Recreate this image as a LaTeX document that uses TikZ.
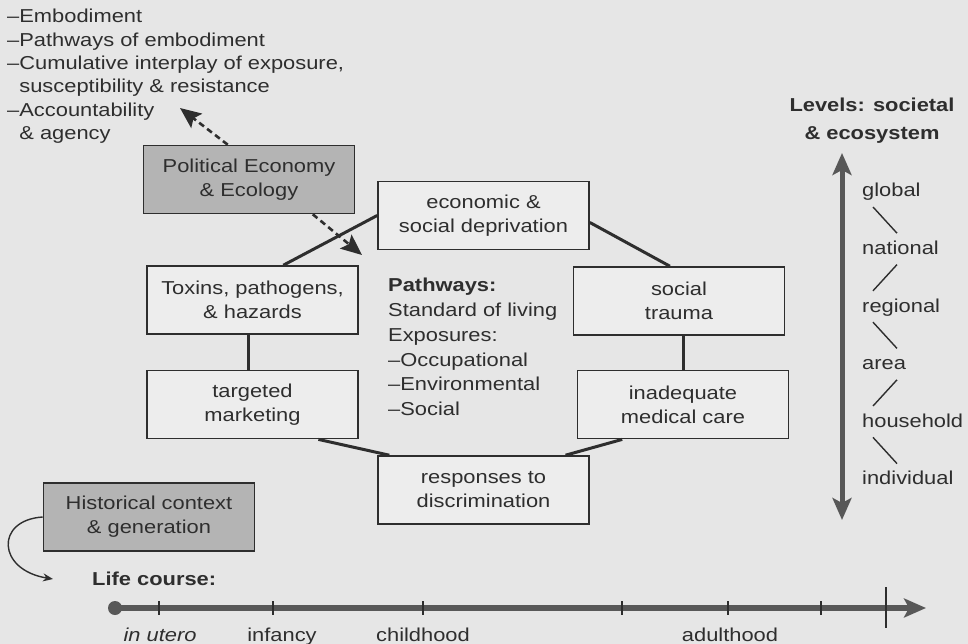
\documentclass[tikz,border=0pt]{standalone}
\usepackage{fontspec}
\setmainfont{Liberation Sans}[FakeStretch=1.17]
\usepackage{xcolor}
\usetikzlibrary{arrows.meta,calc,positioning}
\definecolor{page}{HTML}{E6E6E6}
\definecolor{ink}{HTML}{2E2E2E}
\definecolor{boxfill}{HTML}{EDEDED}
\definecolor{shade}{HTML}{B4B4B4}
\definecolor{rule}{HTML}{585858}
\tikzset{%
	box/.style        = {draw=ink, line width=1.6pt, fill=boxfill, rectangle, minimum width=211pt, minimum height=68pt, inner sep=0pt, align=center},
	shadebox/.style   = {box, fill=shade},
	link/.style       = {draw=ink, line width=3pt},
	dasharrow/.style  = {draw=ink, line width=2.6pt, dash pattern=on 6pt off 4pt, -{Stealth[length=21pt,width=18pt,inset=4pt]}},
	scalearrow/.style = {draw=rule, line width=5pt, {Stealth[length=22pt,width=19pt,inset=5pt]}-{Stealth[length=22pt,width=19pt,inset=5pt]}},
	level/.style      = {anchor=west, inner sep=0pt, text height=14pt, text depth=4pt},
	levelline/.style  = {draw=ink, line width=1.4pt},
	timeline/.style   = {draw=rule, line width=5.5pt, -{Stealth[length=22pt,width=19pt,inset=5pt]}},
	tickmark/.style   = {draw=ink, line width=1.5pt},
	curvearrow/.style = {draw=ink, line width=1.4pt, -{Stealth[length=10pt,width=8pt]}},
}
\begin{document}
\begin{tikzpicture}[x=1pt,y=-1pt,every node/.append style={text=ink,font=\fontsize{18.7}{24}\selectfont}]
	\fill[page] (0,0) rectangle (968,644);
	\useasboundingbox (0,0) rectangle (968,644);
	
	\node[anchor=north west, inner sep=0pt, align=left, font=\fontsize{18.7}{23.4}\selectfont] (aims) at (7,9) {--Embodiment\\--Pathways of embodiment\\--Cumulative interplay of exposure,\\\phantom{--}susceptibility \& resistance\\--Accountability\\\phantom{--}\& agency};
	
	\node[shadebox] (polecon) at (249,179.5) {Political Economy\\\& Ecology};
	\node[box] (depriv) at (483.5,215.5) {economic \&\\social deprivation};
	\node[box] (toxins) at (252.5,300) {Toxins, pathogens,\\\& hazards};
	\node[box, below=35pt of toxins] (marketing) {targeted\\marketing};
	\node[box] (trauma) at (679,301) {social\\trauma};
	\node[box, below=34pt of trauma, xshift=4pt] (medcare) {inadequate\\medical care};
	\node[box] (discrim) at (483.5,490) {responses to\\discrimination};
	\node[shadebox] (history) at (149,517) {Historical context\\\& generation};
	
	\node[anchor=north west, inner sep=0pt, align=left, font=\fontsize{18.7}{24.8}\selectfont] (paths) at (388,278) {\textbf{Pathways:}\\Standard of living\\Exposures:\\--Occupational\\--Environmental\\--Social};
	
	% ring of pathways
	\draw[link] ($(toxins.north west)!.645!(toxins.north east)$) -- (depriv.west);
	\draw[link] ($(depriv.north east)!.6!(depriv.south east)$) -- ($(trauma.north west)!.457!(trauma.north east)$);
	\draw[link] (medcare.north) -- (medcare.north |- trauma.south);
	\draw[link] ($(medcare.south west)!.214!(medcare.south east)$) -- ($(discrim.north west)!.886!(discrim.north east)$);
	\draw[link] ($(discrim.north west)!.057!(discrim.north east)$) -- ($(marketing.south west)!.81!(marketing.south east)$);
	\draw[link] ($(marketing.north west)!.48!(marketing.north east)$) coordinate (m) -- (m |- toxins.south);
	
	\coordinate (aimtip) at (180,108);
	\coordinate (pathtip) at (362,255);
	\draw[dasharrow] ($(polecon.north west)!.4!(polecon.north east)$) -- (aimtip);
	\draw[dasharrow] ($(polecon.south west)!.8!(polecon.south east)$) -- (pathtip);
	
	% levels
	\node[align=center, font=\bfseries\fontsize{18.7}{28}\selectfont] (levels) at (872,121) {Levels: societal\\\& ecosystem};
	\coordinate (scaletop) at (842,153);
	\coordinate (scalebot) at (842,520);
	\draw[scalearrow] (scalebot) -- (scaletop);
	\foreach \lvl [count=\i] in {global,national,regional,area,household,individual}
		\node[level] (lvl\i) at (862,{134.2+57.6*\i}) {\lvl};
	\foreach \i/\j/\p/\q in {1/2/11/35,2/3/35/11,3/4/11/35,4/5/35/11,5/6/11/35}
		\draw[levelline] ($(lvl\i.south west)+(\p,6)$) -- ($(lvl\j.north west)+(\q,-7)$);
	
	% life course
	\node[anchor=base west, inner sep=0pt, font=\bfseries\fontsize{18.7}{24}\selectfont] (lifecourse) at (92,585) {Life course:};
	\coordinate (lcstart) at (115,608);
	\coordinate (lcend) at (926,608);
	\coordinate (lctip) at (53,579);
	\draw[curvearrow] (history.west) .. controls (-5,520) and (-3,570) .. (lctip);
	\draw[timeline] (lcstart) -- (lcend);
	\fill[rule] (lcstart) circle (7);
	\foreach \t in {159,273,423,622,728,821} \draw[tickmark] (\t,601) -- (\t,615);
	\draw[tickmark, line width=2pt] (886,587) -- (886,628);
	\foreach \t/\stage [count=\k] in {160/{\itshape in utero},282/infancy,423/childhood,730/adulthood}
		\node[anchor=base, inner sep=0pt] (stage\k) at (\t,641) {\stage};
\end{tikzpicture}
\end{document}
